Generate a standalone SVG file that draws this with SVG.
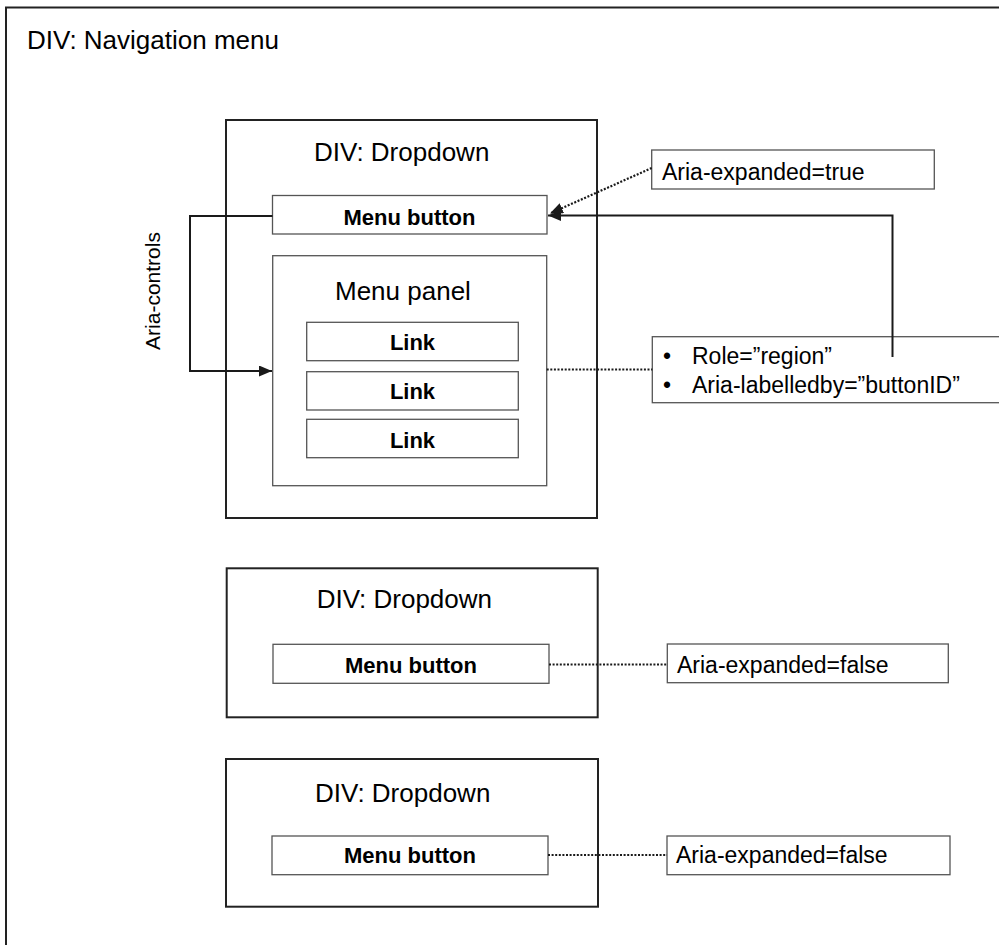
<svg xmlns="http://www.w3.org/2000/svg" width="999" height="945" viewBox="0 0 999 945">
  <style>
    .frame { fill: #fff; stroke: #222; stroke-width: 2; }
    .box { fill: #fff; stroke: #555; stroke-width: 1.3; }
    .t { font-family: "Liberation Sans", Arial, sans-serif; fill: #000; }
    .h { font-size: 26px; }
    .b { font-size: 22px; font-weight: bold; text-anchor: middle; }
    .n { font-size: 23px; }
    .wire { fill: none; stroke: #1a1a1a; stroke-width: 2; }
    .dot { fill: none; stroke: #1a1a1a; stroke-width: 2.2; stroke-dasharray: 2 1.6; }
  </style>
  <defs>
    <marker id="arrow" markerUnits="userSpaceOnUse" markerWidth="14" markerHeight="12" refX="13" refY="5.5" orient="auto">
      <path d="M0,0 L13,5.5 L0,11 z" fill="#1a1a1a"/>
    </marker>
  </defs>

  <rect width="999" height="945" fill="#fff"/>

  <!-- Navigation menu container -->
  <g id="nav-menu">
    <rect class="frame" x="6" y="7.5" width="1010" height="960"/>
    <text class="t h" x="27" y="49">DIV: Navigation menu</text>
  </g>

  <!-- First dropdown (expanded) -->
  <g id="dropdown-1">
    <rect class="frame" x="226" y="120" width="371" height="398"/>
    <text class="t h" x="314" y="161">DIV: Dropdown</text>
  </g>
  <g id="menu-button-1">
    <rect class="box" x="272.5" y="195.5" width="274.5" height="38.5"/>
    <text class="t b" x="409.5" y="225">Menu button</text>
  </g>
  <g id="menu-panel">
    <rect class="box" x="272.7" y="255.7" width="274" height="230"/>
    <text class="t h" x="335" y="300">Menu panel</text>
  </g>
  <g id="link-1">
    <rect class="box" x="306.7" y="322.3" width="211.6" height="38.4"/>
    <text class="t b" x="412.5" y="350">Link</text>
  </g>
  <g id="link-2">
    <rect class="box" x="306.7" y="371.7" width="211.6" height="38.3"/>
    <text class="t b" x="412.5" y="399">Link</text>
  </g>
  <g id="link-3">
    <rect class="box" x="306.7" y="419.3" width="211.6" height="38.4"/>
    <text class="t b" x="412.5" y="447.5">Link</text>
  </g>

  <!-- Notes for the expanded dropdown -->
  <g id="note-expanded-true">
    <rect class="box" x="651.7" y="150" width="282.6" height="39"/>
    <text class="t n" x="662" y="180">Aria-expanded=true</text>
  </g>
  <g id="note-region">
    <rect class="box" x="652.3" y="336.7" width="360" height="66"/>
    <text class="t n" x="663" y="364">•</text>
    <text class="t n" x="692" y="364">Role=”region”</text>
    <text class="t n" x="663" y="393">•</text>
    <text class="t n" x="692" y="393">Aria-labelledby=”buttonID”</text>
  </g>

  <!-- Second dropdown (collapsed) -->
  <g id="dropdown-2">
    <rect class="frame" x="226.7" y="568.3" width="371" height="149"/>
    <text class="t h" x="316.7" y="608">DIV: Dropdown</text>
  </g>
  <g id="menu-button-2">
    <rect class="box" x="273" y="644.3" width="276" height="39"/>
    <text class="t b" x="411" y="673.3">Menu button</text>
  </g>
  <g id="note-expanded-false-2">
    <rect class="box" x="667.3" y="644" width="281" height="38.7"/>
    <text class="t n" x="677" y="672.7">Aria-expanded=false</text>
  </g>

  <!-- Third dropdown (collapsed) -->
  <g id="dropdown-3">
    <rect class="frame" x="226" y="759" width="372" height="147.7"/>
    <text class="t h" x="315" y="801.7">DIV: Dropdown</text>
  </g>
  <g id="menu-button-3">
    <rect class="box" x="272" y="836" width="276" height="38.7"/>
    <text class="t b" x="410" y="863.3">Menu button</text>
  </g>
  <g id="note-expanded-false-3">
    <rect class="box" x="667" y="836" width="283" height="38.7"/>
    <text class="t n" x="676" y="863">Aria-expanded=false</text>
  </g>

  <!-- Connectors -->
  <g id="connectors">
    <path class="wire" d="M272.5,216 H190 V371 H272" marker-end="url(#arrow)"/>
    <text class="t" font-size="21" text-anchor="middle" transform="translate(160 291) rotate(-90)">Aria-controls</text>
    <path class="wire" d="M892.5,357 V215.5 H548" marker-end="url(#arrow)"/>
    <path class="dot" d="M651.7,168 L550,213.5" marker-end="url(#arrow)"/>
    <path class="dot" d="M546.7,369.5 H652.3"/>
    <path class="dot" d="M549,664.5 H667.3"/>
    <path class="dot" d="M548,855 H667"/>
  </g>
</svg>
